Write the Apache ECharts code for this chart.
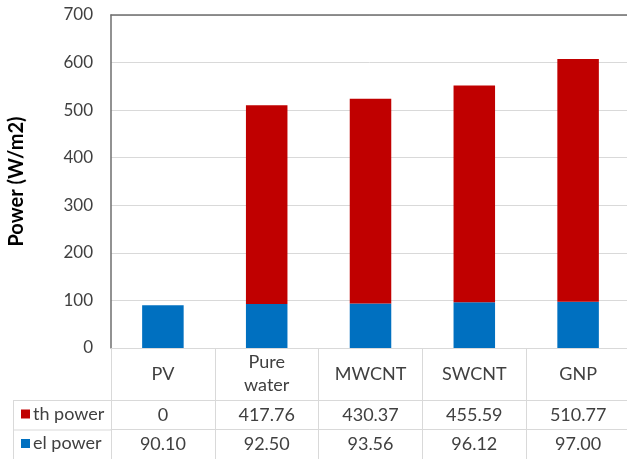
<!DOCTYPE html>
<html>
<head>
<meta charset="utf-8">
<script src="https://cdn.jsdelivr.net/npm/echarts@6/dist/echarts.min.js"></script>
<style>
  html, body { margin: 0; padding: 0; background: #fff; }
  #chart { width: 627px; height: 459px; }
</style>
</head>
<body>
<div id="chart"></div>
<script>
// Materials compared
const categories = ['PV', 'Pure\nwater', 'MWCNT', 'SWCNT', 'GNP'];
// Thermal and electrical power per material (W/m2)
const thPower = [0, 417.76, 430.37, 455.59, 510.77];
const elPower = [90.10, 92.50, 93.56, 96.12, 97.00];
// Value-axis ticks
const yTicks = [0, 100, 200, 300, 400, 500, 600, 700];

const FONT = 'Lato, "Noto Sans", sans-serif';
const TXT = '#404040';
const GRID_LINE = '#d9d9d9';
const AXIS_DARK = '#6e6e6e';

const gridLeft = 111, gridTop = 15, gridWidth = 519, gridHeight = 333;
const catRowH = 52, rowH = 29.5;
const tableLeft = 13;
const gridBottomY = gridTop + gridHeight;

function fmt0(v) { return v === 0 ? '0' : v.toFixed(2); }

function legendRow(name, rowIndex) {
  return {
    orient: 'horizontal',
    left: tableLeft + 8,
    top: gridBottomY + catRowH + rowIndex * rowH + 5,
    itemWidth: 9,
    itemHeight: 9,
    itemGap: 0,
    padding: [0, 0, 0, 0],
    icon: 'rect',
    data: [name],
    selectedMode: false,
    textStyle: { fontFamily: FONT, fontSize: 18, color: TXT, padding: [0, 0, 0, -2] }
  };
}

const chart = echarts.init(document.getElementById('chart'), null, { renderer: 'canvas' });

const option = {
  animation: false,
  backgroundColor: '#fff',
  textStyle: { fontFamily: FONT },
  grid: {
    left: gridLeft, top: gridTop, width: gridWidth, height: gridHeight,
    containLabel: false, outerBoundsMode: 'none'
  },
  legend: [legendRow('th power', 0), legendRow('el power', 1)],
  xAxis: [
    {
      type: 'category',
      data: categories,
      position: 'bottom',
      axisLine: { show: true, onZero: false, lineStyle: { color: GRID_LINE, width: 1 } },
      axisTick: { show: true, interval: 0, length: catRowH, lineStyle: { color: GRID_LINE } },
      axisLabel: {
        interval: 0, margin: catRowH / 2, verticalAlign: 'middle',
        fontFamily: FONT, fontSize: 18, color: TXT, lineHeight: 23
      }
    },
    {
      type: 'category',
      data: thPower.map(fmt0),
      position: 'bottom',
      offset: catRowH,
      axisLine: { show: true, onZero: false, lineStyle: { color: GRID_LINE, width: 1 } },
      axisTick: { show: true, interval: 0, length: rowH, lineStyle: { color: GRID_LINE } },
      axisLabel: {
        interval: 0, margin: rowH / 2, verticalAlign: 'middle',
        fontFamily: FONT, fontSize: 18, color: TXT
      }
    },
    {
      type: 'category',
      data: elPower.map(fmt0),
      position: 'bottom',
      offset: catRowH + rowH,
      axisLine: { show: true, onZero: false, lineStyle: { color: GRID_LINE, width: 1 } },
      axisTick: { show: true, interval: 0, length: rowH + 2, lineStyle: { color: GRID_LINE } },
      axisLabel: {
        interval: 0, margin: rowH / 2, verticalAlign: 'middle',
        fontFamily: FONT, fontSize: 18, color: TXT
      }
    },
    {
      type: 'category',
      data: categories,
      position: 'top',
      axisLine: { show: true, onZero: false, lineStyle: { color: AXIS_DARK, width: 1.5 } },
      axisTick: { show: false },
      axisLabel: { show: false }
    }
  ],
  yAxis: {
    type: 'value',
    min: yTicks[0],
    max: yTicks[yTicks.length - 1],
    interval: 100,
    name: 'Power (W/m2)',
    nameLocation: 'middle',
    nameGap: 84,
    nameTextStyle: { fontFamily: FONT, fontSize: 20, fontWeight: 'bold', color: '#000' },
    axisLine: { show: true, lineStyle: { color: AXIS_DARK, width: 1.5 } },
    axisTick: { show: false },
    axisLabel: { margin: 18, fontFamily: FONT, fontSize: 17, color: TXT },
    splitLine: { show: true, lineStyle: { color: GRID_LINE, width: 1 } }
  },
  series: [
    {
      name: 'el power',
      type: 'bar',
      stack: 'power',
      xAxisIndex: 0,
      barWidth: '40%',
      itemStyle: { color: '#0070C0' },
      data: elPower
    },
    {
      name: 'th power',
      type: 'bar',
      stack: 'power',
      xAxisIndex: 0,
      barWidth: '40%',
      itemStyle: { color: '#C00000' },
      data: thPower
    }
  ],
  graphic: [
    // table borders to the left of the plot
    {
      type: 'line', silent: true,
      shape: { x1: tableLeft, y1: gridBottomY + catRowH + 0.5, x2: gridLeft, y2: gridBottomY + catRowH + 0.5 },
      style: { stroke: GRID_LINE, lineWidth: 1 }
    },
    {
      type: 'line', silent: true,
      shape: { x1: tableLeft, y1: gridBottomY + catRowH + rowH + 0.5, x2: gridLeft, y2: gridBottomY + catRowH + rowH + 0.5 },
      style: { stroke: GRID_LINE, lineWidth: 1 }
    },
    {
      type: 'line', silent: true,
      shape: { x1: tableLeft + 0.5, y1: gridBottomY + catRowH, x2: tableLeft + 0.5, y2: 459 },
      style: { stroke: GRID_LINE, lineWidth: 1 }
    }
  ]
};

chart.setOption(option);
</script>
</body>
</html>
